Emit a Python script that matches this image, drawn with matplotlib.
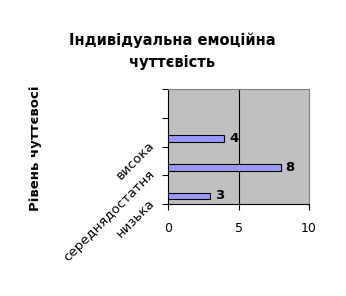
import numpy as np
import matplotlib.pyplot as plt

categories = ["низька", "середнядостатня", "висока"]
values = [3, 8, 4]
title = "Індивідуальна емоційна\nчуттєвість"
ylabel = "Рівень чуттєвосі"

fig = plt.figure(figsize=(3.46, 2.96), dpi=100)
ax = fig.add_axes([168 / 346, 1 - 204 / 296, 141 / 346, 115 / 296])
ax.set_facecolor("#c0c0c0")

pos = np.arange(len(values))
ax.barh(pos + 0.28, values, height=0.23, color="#9999ff", edgecolor="black",
        linewidth=0.8, zorder=3)
for p, v in zip(pos, values):
    ax.text(v + 0.35, p + 0.28, str(v), va="center", ha="left",
            fontsize=9.5, fontweight="bold", zorder=4)

ax.set_xlim(0, 10)
ax.set_ylim(0, 4)
ax.set_xticks([0, 5, 10])
ax.set_xticklabels(["0", "5", "10"], fontsize=9)
ax.set_yticks([0, 1, 2, 3, 4])
ax.set_yticklabels([])
ax.tick_params(axis="both", direction="out", length=4, width=0.8, color="black")
ax.tick_params(axis="x", pad=9)
ax.axvline(5, color="black", linewidth=0.8, zorder=2)

for i, c in enumerate(categories):
    ax.text(-1.1, i + 0.1, c, rotation=45, rotation_mode="anchor",
            ha="right", va="center", fontsize=9.5, clip_on=False)

for s in ["top", "right"]:
    ax.spines[s].set_color("#808080")
for s in ["left", "bottom"]:
    ax.spines[s].set_color("black")

fig.text(172 / 346, 1 - 51 / 296, title, ha="center", va="center",
         fontsize=10.5, fontweight="bold", linespacing=1.6)
fig.text(35 / 346, 1 - 148 / 296, ylabel, rotation=90, ha="center",
         va="center", fontsize=9.5, fontweight="bold")

fig.savefig("out.png", dpi=100)
